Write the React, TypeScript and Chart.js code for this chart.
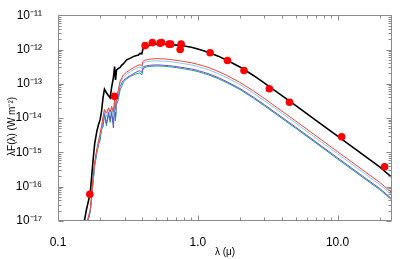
import React, { useEffect, useRef } from 'react';
import { Chart, registerables } from 'chart.js';

Chart.register(...registerables);

// Model wavelengths (micron)
const modelLambda = [0.150, 0.155, 0.160, 0.165, 0.170, 0.175, 0.178, 0.183, 0.190, 0.195, 0.200, 0.205, 0.210, 0.215, 0.222, 0.230, 0.236, 0.242, 0.249, 0.254, 0.258, 0.262, 0.270, 0.278, 0.286, 0.293, 0.310, 0.330, 0.345, 0.360, 0.376, 0.386, 0.398, 0.405, 0.412, 0.430, 0.450, 0.470, 0.500, 0.520, 0.550, 0.580, 0.620, 0.660, 0.700, 0.750, 0.800, 0.900, 1.00, 1.10, 1.20, 1.40, 1.63, 2.00, 2.50, 3.00, 4.00, 5.00, 7.00, 10.0, 15.0, 20.0, 25.0];

const blackFlux = [5.0e-18, 1.1e-17, 2.2e-17, 3.8e-17, 6.5e-17, 2.5e-16, 5.7e-16, 1.8e-15, 4.3e-15, 6.5e-15, 9.0e-15, 1.6e-14, 4.0e-14, 7.0e-14, 5.5e-14, 4.5e-14, 3.9e-14, 8.0e-14, 1.5e-13, 3.2e-13, 1.3e-13, 2.5e-13, 2.8e-13, 3.0e-13, 3.5e-13, 3.8e-13, 5.0e-13, 5.6e-13, 6.2e-13, 6.6e-13, 6.9e-13, 7.7e-13, 7.5e-13, 1.05e-12, 1.1e-12, 1.2e-12, 1.3e-12, 1.36e-12, 1.42e-12, 1.45e-12, 1.46e-12, 1.45e-12, 1.42e-12, 1.38e-12, 1.34e-12, 1.30e-12, 1.26e-12, 1.16e-12, 1.04e-12, 9.2e-13, 8.2e-13, 6.4e-13, 4.8e-13, 3.1e-13, 1.75e-13, 1.05e-13, 4.5e-14, 2.35e-14, 8.6e-15, 2.98e-15, 8.9e-16, 3.8e-16, 1.72e-16];

const redFlux = [2e-18, 4e-18, 8e-18, 1.3e-17, 2.2e-17, 7.5e-17, 1.7e-16, 5.5e-16, 1.3e-15, 2.2e-15, 3.5e-15, 6.0e-15, 1.1e-14, 1.8e-14, 1.4e-14, 2.0e-14, 1.5e-14, 2.2e-14, 1.5e-14, 3.5e-14, 1.8e-14, 4.5e-14, 6.5e-14, 1.2e-13, 1.5e-13, 1.8e-13, 2.2e-13, 2.6e-13, 2.9e-13, 3.2e-13, 3.5e-13, 3.6e-13, 3.3e-13, 4.5e-13, 4.8e-13, 5.0e-13, 5.2e-13, 5.3e-13, 5.4e-13, 5.4e-13, 5.35e-13, 5.3e-13, 5.15e-13, 5.0e-13, 4.85e-13, 4.65e-13, 4.45e-13, 4.1e-13, 3.7e-13, 3.3e-13, 2.95e-13, 2.3e-13, 1.72e-13, 1.1e-13, 6.2e-14, 3.7e-14, 1.6e-14, 8.3e-15, 3.05e-15, 1.05e-15, 3.15e-16, 1.34e-16, 6.2e-17];

const lightBlueFlux = [2e-18, 4e-18, 8e-18, 1.3e-17, 2.1e-17, 7.0e-17, 1.6e-16, 5.0e-16, 1.2e-15, 2.0e-15, 3.2e-15, 5.5e-15, 1.0e-14, 1.6e-14, 1.1e-14, 1.8e-14, 1.2e-14, 2.0e-14, 1.1e-14, 3.0e-14, 1.5e-14, 3.8e-14, 5.8e-14, 1.05e-13, 1.3e-13, 1.55e-13, 1.9e-13, 2.25e-13, 2.5e-13, 2.75e-13, 3.0e-13, 3.1e-13, 2.8e-13, 3.9e-13, 4.2e-13, 4.4e-13, 4.5e-13, 4.6e-13, 4.65e-13, 4.65e-13, 4.6e-13, 4.55e-13, 4.45e-13, 4.3e-13, 4.2e-13, 4.0e-13, 3.85e-13, 3.55e-13, 3.2e-13, 2.85e-13, 2.55e-13, 1.98e-13, 1.48e-13, 9.5e-14, 5.35e-14, 3.2e-14, 1.38e-14, 7.2e-15, 2.63e-15, 9.1e-16, 2.72e-16, 1.16e-16, 5.4e-17];

const purpleFlux = [1.5e-18, 3.5e-18, 7e-18, 1.2e-17, 1.9e-17, 6.0e-17, 1.4e-16, 4.5e-16, 1.1e-15, 1.6e-15, 3.0e-15, 4.5e-15, 8.0e-15, 1.4e-14, 7.0e-15, 1.5e-14, 9.0e-15, 1.6e-14, 5.2e-15, 2.4e-14, 1.1e-14, 3.0e-14, 4.6e-14, 8.5e-14, 1.05e-13, 1.25e-13, 1.5e-13, 1.75e-13, 1.95e-13, 2.15e-13, 2.35e-13, 2.4e-13, 2.15e-13, 3.0e-13, 3.2e-13, 3.35e-13, 3.45e-13, 3.5e-13, 3.55e-13, 3.55e-13, 3.5e-13, 3.45e-13, 3.38e-13, 3.28e-13, 3.18e-13, 3.05e-13, 2.93e-13, 2.7e-13, 2.44e-13, 2.18e-13, 1.95e-13, 1.52e-13, 1.13e-13, 7.3e-14, 4.1e-14, 2.45e-14, 1.06e-14, 5.5e-15, 2.02e-15, 6.95e-16, 2.08e-16, 8.9e-17, 4.1e-17];

const tealFlux = [1.5e-18, 3.5e-18, 7e-18, 1.1e-17, 1.8e-17, 5.5e-17, 1.3e-16, 4.0e-16, 1.0e-15, 1.8e-15, 2.2e-15, 4.8e-15, 5.5e-15, 1.2e-14, 6.0e-15, 1.3e-14, 7.5e-15, 1.4e-14, 7.0e-15, 2.0e-14, 8.3e-15, 2.4e-14, 3.5e-14, 6.5e-14, 8.5e-14, 1.1e-13, 1.4e-13, 1.65e-13, 1.8e-13, 1.95e-13, 2.0e-13, 2.1e-13, 1.8e-13, 2.6e-13, 2.9e-13, 3.1e-13, 3.2e-13, 3.25e-13, 3.3e-13, 3.3e-13, 3.28e-13, 3.24e-13, 3.15e-13, 3.06e-13, 2.97e-13, 2.85e-13, 2.72e-13, 2.5e-13, 2.27e-13, 2.02e-13, 1.8e-13, 1.41e-13, 1.05e-13, 6.8e-14, 3.8e-14, 2.27e-14, 9.8e-15, 5.1e-15, 1.87e-15, 6.4e-16, 1.92e-16, 8.2e-17, 3.8e-17];

// Photometry
const photLambda = [0.169, 0.253, 0.42, 0.473, 0.537, 0.55, 0.623, 0.64, 0.76, 0.748, 1.225, 1.63, 2.14, 3.25, 4.53, 10.7, 21.7];
const photFlux = [6.0e-17, 4.3e-14, 1.30e-12, 1.59e-12, 1.53e-12, 1.6e-12, 1.43e-12, 1.43e-12, 1.43e-12, 1.0e-12, 8.0e-13, 4.8e-13, 2.43e-13, 7.2e-14, 2.9e-14, 2.85e-15, 3.8e-16];

// Axes
const xTickValues = [0.1, 1, 10];
const xTickLabels = ['0.1', '1.0', '10.0'];
const yTickValues = [1e-17, 1e-16, 1e-15, 1e-14, 1e-13, 1e-12, 1e-11];
const yTickLabels = ['10⁻¹⁷', '10⁻¹⁶', '10⁻¹⁵', '10⁻¹⁴', '10⁻¹³', '10⁻¹²', '10⁻¹¹'];
const xTitle = 'λ (μ)';
const yTitle = 'λF(λ) (W m⁻²)';

const FONT = '"Liberation Sans", Arial, Helvetica, sans-serif';
const AXIS_COLOR = '#8a8a8a';

const toPoints = (xs: number[], ys: number[]) => xs.map((x, i) => ({ x, y: ys[i] }));

const framePlugin = {
  id: 'frameTicks',
  afterDatasetsDraw(chart: any) {
    const { ctx, chartArea } = chart;
    const { left, right, top, bottom } = chartArea;
    const xs = chart.scales.x;
    const ys = chart.scales.y;
    ctx.save();
    ctx.strokeStyle = AXIS_COLOR;
    ctx.lineWidth = 1;
    ctx.beginPath();
    ctx.rect(Math.round(left) + 0.5, Math.round(top) + 0.5, Math.round(right - left) - 1, Math.round(bottom - top) - 1);
    ctx.stroke();
    const L = Math.round(left) + 0.5, R = Math.round(right) - 0.5, T = Math.round(top) + 0.5, B = Math.round(bottom) - 0.5;
    const logTicks = (min: number, max: number) => {
      const out: { v: number; major: boolean }[] = [];
      for (let e = Math.floor(Math.log10(min)) - 1; e <= Math.ceil(Math.log10(max)); e++) {
        for (let m = 1; m <= 9; m++) {
          const v = m * Math.pow(10, e);
          if (v >= min * 0.9999 && v <= max * 1.0001) out.push({ v, major: m === 1 });
        }
      }
      return out;
    };
    ctx.beginPath();
    for (const t of logTicks(xs.min, xs.max)) {
      const px = Math.round(xs.getPixelForValue(t.v)) + 0.5;
      const len = t.major ? 5 : 3;
      ctx.moveTo(px, B);
      ctx.lineTo(px, B - len);
      ctx.moveTo(px, T);
      ctx.lineTo(px, T + len);
    }
    for (const t of logTicks(ys.min, ys.max)) {
      const py = Math.round(ys.getPixelForValue(t.v)) + 0.5;
      const len = t.major ? 5 : 3;
      ctx.moveTo(L, py);
      ctx.lineTo(L + len, py);
      ctx.moveTo(R, py);
      ctx.lineTo(R - len, py);
    }
    ctx.stroke();
    ctx.restore();
  },
};

export default function App() {
  const ref = useRef<HTMLCanvasElement | null>(null);
  useEffect(() => {
    if (!ref.current) return;
    const lineDs = (label: string, ys: number[], color: string, width: number) => ({
      type: 'line' as const,
      label,
      data: toPoints(modelLambda, ys),
      borderColor: color,
      backgroundColor: color,
      borderWidth: width,
      pointRadius: 0,
      tension: 0,
      fill: false,
    });
    const chart = new Chart(ref.current, {
      type: 'line',
      data: {
        datasets: [
          {
            type: 'scatter' as const,
            label: 'Photometry',
            data: toPoints(photLambda, photFlux),
            backgroundColor: '#ff0000',
            borderColor: '#ff0000',
            borderWidth: 0,
            pointRadius: 3.8,
            showLine: false,
            order: 0,
          } as any,
          { ...lineDs('Model', blackFlux, '#000000', 1.6), order: 1 },
          { ...lineDs('Model A', redFlux, '#e8453c', 1), order: 2 },
          { ...lineDs('Model B', lightBlueFlux, '#86c8ec', 1), order: 3 },
          { ...lineDs('Model C', purpleFlux, '#6a4fc8', 1), order: 4 },
          { ...lineDs('Model D', tealFlux, '#1f9a8a', 1), order: 5 },
        ],
      },
      options: {
        responsive: false,
        animation: false,
        devicePixelRatio: 1,
        layout: { padding: { top: 13, right: 15, left: 0, bottom: 0 } },
        plugins: { legend: { display: false }, tooltip: { enabled: false } },
        scales: {
          x: {
            type: 'logarithmic',
            min: 0.1,
            max: 24.5,
            grid: { display: false },
            border: { display: false },
            afterBuildTicks: (scale: any) => {
              scale.ticks = xTickValues.map((v) => ({ value: v }));
            },
            afterFit: (scale: any) => {
              scale.height = 38;
            },
            ticks: {
              autoSkip: false,
              maxRotation: 0,
              padding: 6,
              color: '#000',
              font: { family: FONT, size: 12 },
              callback: (v: any) => {
                const i = xTickValues.findIndex((t) => Math.abs(Math.log10(t) - Math.log10(Number(v))) < 1e-6);
                return i >= 0 ? xTickLabels[i] : '';
              },
            },
            title: {
              display: true,
              text: xTitle,
              color: '#000',
              font: { family: FONT, size: 10 },
              padding: { top: 0, bottom: 1 },
            },
          },
          y: {
            type: 'logarithmic',
            min: 1e-17,
            max: 1e-11,
            grid: { display: false },
            border: { display: false },
            afterBuildTicks: (scale: any) => {
              scale.ticks = yTickValues.map((v) => ({ value: v }));
            },
            afterFit: (scale: any) => {
              scale.width = 58;
            },
            ticks: {
              autoSkip: false,
              padding: 8,
              color: '#000',
              font: { family: FONT, size: 12 },
              callback: (v: any) => {
                const i = yTickValues.findIndex((t) => Math.abs(Math.log10(t) - Math.log10(Number(v))) < 1e-6);
                return i >= 0 ? yTickLabels[i] : '';
              },
            },
            title: {
              display: true,
              text: yTitle + '\u00a0\u00a0\u00a0\u00a0\u00a0\u00a0',
              color: '#000',
              font: { family: FONT, size: 10 },
              padding: { top: 6, bottom: 0 },
            },
          },
        },
      },
      plugins: [framePlugin],
    } as any);
    return () => chart.destroy();
  }, []);
  return (
    <div style={{ position: 'absolute', left: 0, top: 0, width: 407, height: 259, background: '#fff' }}>
      <canvas ref={ref} width={407} height={259} />
    </div>
  );
}
